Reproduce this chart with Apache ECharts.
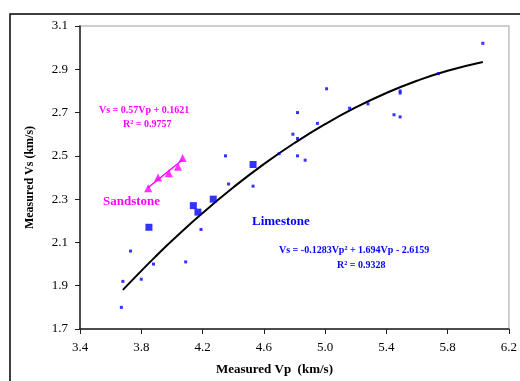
<!DOCTYPE html>
<html>
<head>
<meta charset="utf-8">
<script src="https://cdn.jsdelivr.net/npm/echarts@6/dist/echarts.min.js"></script>
<style>
  html, body { margin: 0; padding: 0; background: #fff; }
  #main { width: 520px; height: 381px; }
</style>
</head>
<body>
<div id="main"></div>
<script>
// limestone, small dots
var limeDotVp = [3.67, 3.68, 3.73, 3.80, 3.88, 4.09, 4.19, 4.35, 4.37, 4.53, 4.70, 4.79, 4.82, 4.82, 4.82, 4.87, 4.95, 5.01, 5.16, 5.28, 5.45, 5.49, 5.49, 5.49, 5.74, 6.03];
var limeDotVs = [1.80, 1.92, 2.06, 1.93, 2.00, 2.01, 2.16, 2.50, 2.37, 2.36, 2.51, 2.60, 2.58, 2.70, 2.50, 2.48, 2.65, 2.81, 2.72, 2.74, 2.69, 2.68, 2.80, 2.79, 2.88, 3.02];
// limestone, big squares
var limeSqVp = [3.85, 4.14, 4.17, 4.27, 4.53];
var limeSqVs = [2.17, 2.27, 2.24, 2.30, 2.46];
// sandstone triangles
var sandVp = [3.845, 3.91, 3.98, 4.04, 4.07];
var sandVs = [2.35, 2.40, 2.42, 2.45, 2.49];

// trend lines as printed on the chart
var limeFit = [-0.1283, 1.694, -2.6159];   // a*x^2 + b*x + c
var limeFitRange = [3.68, 3.8, 3.9, 4.0, 4.2, 4.4, 4.6, 4.8, 5.0, 5.2, 5.4, 5.6, 5.8, 6.03];
var sandFit = [0.57, 0.1621];              // a*x + b
var sandFitRange = [3.845, 4.07];

var xTicks = ['3.4', '3.8', '4.2', '4.6', '5.0', '5.4', '5.8', '6.2'];
var yTicks = ['1.7', '1.9', '2.1', '2.3', '2.5', '2.7', '2.9', '3.1'];

function zip(a, b) {
  var out = [];
  for (var i = 0; i < a.length; i++) out.push([a[i], b[i]]);
  return out;
}

var limeCurve = limeFitRange.map(function (x) {
  return [x, limeFit[0] * x * x + limeFit[1] * x + limeFit[2]];
});
var sandLine = sandFitRange.map(function (x) {
  return [x, sandFit[0] * x + sandFit[1]];
});

var serif = '"Liberation Serif", "Times New Roman", serif';

var myChart = echarts.init(document.getElementById('main'));
myChart.setOption({
  animation: false,
  backgroundColor: '#fff',
  grid: {
    left: 80, top: 26, width: 434, height: 307,
    show: true, borderColor: '#c0c0c0', borderWidth: 1.5
  },
  xAxis: {
    type: 'value',
    min: Number(xTicks[0]), max: Number(xTicks[xTicks.length - 1]), interval: 0.4,
    name: 'Measured Vp  (km/s)',
    nameLocation: 'middle', nameGap: 34,
    nameTextStyle: { fontFamily: serif, fontWeight: 'bold', fontSize: 13, color: '#000', padding: [0, 40, 0, 0] },
    axisLine: { lineStyle: { color: '#222', width: 1.5 } },
    axisTick: { show: true, length: 5, lineStyle: { color: '#222' } },
    splitLine: { show: false },
    axisLabel: {
      margin: 12, fontFamily: serif, fontSize: 13, color: '#000',
      formatter: function (v) { return v.toFixed(1); }
    }
  },
  yAxis: {
    type: 'value',
    min: Number(yTicks[0]), max: Number(yTicks[yTicks.length - 1]), interval: 0.2,
    name: 'Measured Vs (km/s)',
    nameLocation: 'middle', nameGap: 44,
    nameTextStyle: { fontFamily: serif, fontWeight: 'bold', fontSize: 12, color: '#000' },
    axisLine: { show: true, lineStyle: { color: '#222', width: 1.5 } },
    axisTick: { show: true, length: 5, lineStyle: { color: '#222' } },
    splitLine: { show: false },
    axisLabel: {
      margin: 12, fontFamily: serif, fontSize: 13, color: '#000',
      formatter: function (v) { return v.toFixed(1); }
    }
  },
  series: [
    {
      name: 'Limestone fit', type: 'line', data: limeCurve, smooth: true,
      symbol: 'none', lineStyle: { color: '#000', width: 2 }, z: 2
    },
    {
      name: 'Sandstone fit', type: 'line', data: sandLine,
      symbol: 'none', lineStyle: { color: '#ff00ff', width: 1.5 }, z: 2
    },
    {
      name: 'Limestone', type: 'scatter', data: zip(limeDotVp, limeDotVs),
      symbol: 'rect', symbolSize: 3, itemStyle: { color: '#0000ff' }, z: 3
    },
    {
      name: 'Limestone (sq)', type: 'scatter', data: zip(limeSqVp, limeSqVs),
      symbol: 'rect', symbolSize: 7, itemStyle: { color: '#0000ff' }, z: 3
    },
    {
      name: 'Sandstone', type: 'scatter', data: zip(sandVp, sandVs),
      symbol: 'triangle', symbolSize: 8, itemStyle: { color: '#ff00ff' }, z: 3
    }
  ],
  graphic: [
    {
      type: 'rect', silent: true, z: -1,
      shape: { x: 10, y: 14, width: 530, height: 400 },
      style: { fill: null, stroke: '#000', lineWidth: 1.5 }
    },
    {
      type: 'text', left: 99, top: 105,
      style: { text: 'Vs = 0.57Vp + 0.1621', font: 'bold 10px ' + serif, fill: '#ff00ff' }
    },
    {
      type: 'text', left: 123, top: 119,
      style: { text: 'R² = 0.9757', font: 'bold 10px ' + serif, fill: '#ff00ff' }
    },
    {
      type: 'text', left: 103, top: 195,
      style: { text: 'Sandstone', font: 'bold 13px ' + serif, fill: '#ff00ff' }
    },
    {
      type: 'text', left: 252, top: 215,
      style: { text: 'Limestone', font: 'bold 13px ' + serif, fill: '#0000ff' }
    },
    {
      type: 'text', left: 279, top: 245,
      style: { text: 'Vs = -0.1283Vp² + 1.694Vp - 2.6159', font: 'bold 10px ' + serif, fill: '#0000ff' }
    },
    {
      type: 'text', left: 337, top: 260,
      style: { text: 'R² = 0.9328', font: 'bold 10px ' + serif, fill: '#0000ff' }
    }
  ]
});
</script>
</body>
</html>
